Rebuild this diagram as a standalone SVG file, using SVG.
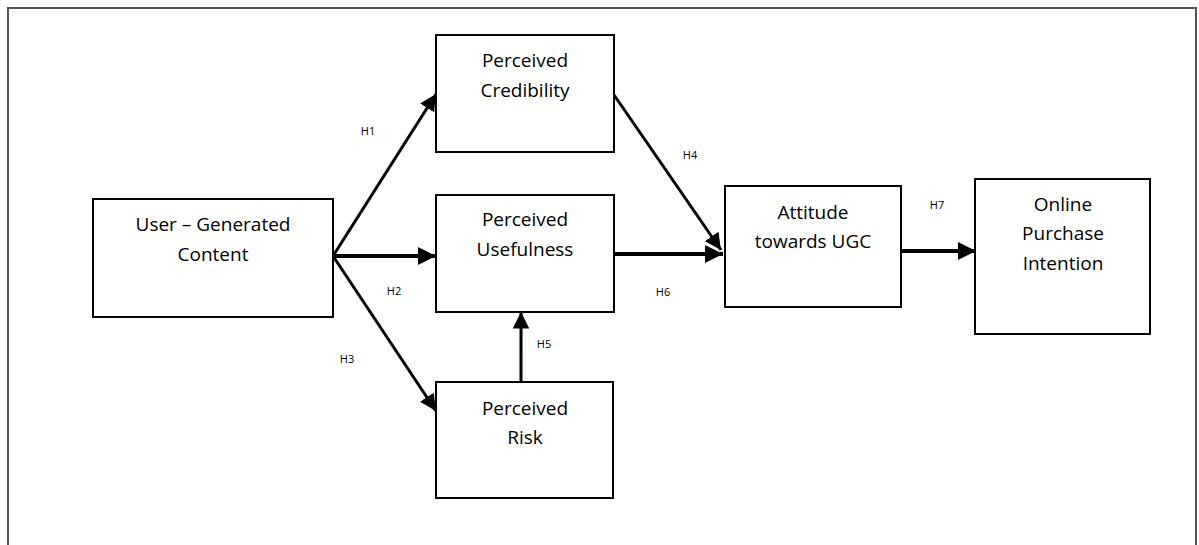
<svg xmlns="http://www.w3.org/2000/svg" width="1199" height="545" viewBox="0 0 1199 545">
<style>
.box{fill:#fff;stroke:#000;stroke-width:2}
.t{font-family:"Open Sans","Liberation Sans",sans-serif;font-size:19px;fill:#000;text-anchor:middle}
.h{font-family:"Open Sans","Liberation Sans",sans-serif;font-size:11px;fill:#000;text-anchor:middle}
.c{stroke:#000;stroke-width:3;fill:none}
.ck{stroke:#000;stroke-width:4;fill:none}
</style>
<defs>
<marker id="ah" viewBox="0 0 10 10" refX="10" refY="5" markerWidth="5.5" markerHeight="5.5" markerUnits="strokeWidth" orient="auto"><path d="M0,0 L10,5 L0,10 z" fill="#000"/></marker>
<marker id="ahk" viewBox="0 0 10 10" refX="10" refY="5" markerWidth="4.5" markerHeight="4.5" markerUnits="strokeWidth" orient="auto"><path d="M0,0 L10,5 L0,10 z" fill="#000"/></marker>
</defs>
<rect x="0" y="0" width="1199" height="545" fill="#fff"/>
<path d="M8,545 V8 H1196 V545" fill="none" stroke="#555" stroke-width="2"/>
<g id="connectors">
<line class="c" x1="333" y1="256" x2="436" y2="94" marker-end="url(#ah)"/>
<line class="ck" x1="333" y1="256" x2="436" y2="256" marker-end="url(#ahk)"/>
<line class="c" x1="333" y1="256" x2="436" y2="411" marker-end="url(#ah)"/>
<line class="c" x1="612" y1="92" x2="721" y2="250" marker-end="url(#ah)"/>
<line class="c" x1="521" y1="382" x2="521" y2="312" marker-end="url(#ah)"/>
<line class="ck" x1="614" y1="254" x2="723" y2="254" marker-end="url(#ahk)"/>
<line class="ck" x1="901" y1="251" x2="976" y2="251" marker-end="url(#ahk)"/>
<text class="h" x="368" y="135">H1</text>
<text class="h" x="394" y="295">H2</text>
<text class="h" x="347" y="363">H3</text>
<text class="h" x="690" y="159">H4</text>
<text class="h" x="544" y="348">H5</text>
<text class="h" x="663" y="296">H6</text>
<text class="h" x="937" y="209">H7</text>
</g>
<g id="ugc"><rect class="box" x="93" y="199" width="240" height="118"/><text class="t" x="213" y="231">User – Generated</text><text class="t" x="213" y="261">Content</text></g>
<g id="credibility"><rect class="box" x="436" y="35" width="178" height="117"/><text class="t" x="525" y="67">Perceived</text><text class="t" x="525" y="97">Credibility</text></g>
<g id="usefulness"><rect class="box" x="436" y="195" width="178" height="117"/><text class="t" x="525" y="226">Perceived</text><text class="t" x="525" y="256">Usefulness</text></g>
<g id="risk"><rect class="box" x="436" y="382" width="177" height="116"/><text class="t" x="525" y="415">Perceived</text><text class="t" x="525" y="444">Risk</text></g>
<g id="attitude"><rect class="box" x="725" y="186" width="176" height="121"/><text class="t" x="813" y="219">Attitude</text><text class="t" x="813" y="248">towards UGC</text></g>
<g id="intention"><rect class="box" x="975" y="179" width="175" height="155"/><text class="t" x="1063" y="211">Online</text><text class="t" x="1063" y="240">Purchase</text><text class="t" x="1063" y="270">Intention</text></g>
</svg>
